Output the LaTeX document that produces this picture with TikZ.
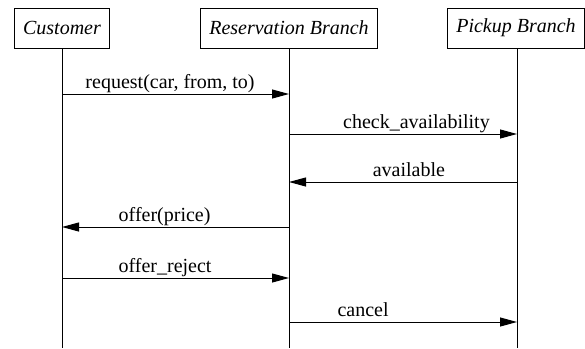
\documentclass[tikz,border=0pt]{standalone}
\usepackage{fontspec}
\setmainfont{Liberation Serif}
\usetikzlibrary{arrows.meta,calc}

\tikzset{
	party/.style={draw, line width=1pt, minimum height=40pt, inner xsep=9pt, font=\fontsize{20}{24}\selectfont\itshape},
	msg/.style={line width=1pt, -{Triangle[length=17pt,width=9pt]}},
	lbl/.style={anchor=base, yshift=6pt}
}

\begin{document}
\begin{tikzpicture}[x=1pt,y=-1pt]
	\useasboundingbox (0,0) rectangle (585,348);
	\begin{scope}[font=\fontsize{20}{24}\selectfont]
		\draw (62,28) node[party](customer) {Customer};
		\draw (289,28) node[party](resv) {Reservation Branch};
		\draw (516,28) node[party](pickup) {Pickup Branch};

		% lifelines
		\draw (62,348) coordinate (customer-end);
		\draw (289,348) coordinate (resv-end);
		\draw (517,348) coordinate (pickup-end);
		\draw [line width=1pt] (customer) -- (customer-end);
		\draw [line width=1pt] (resv) -- (resv-end);
		\draw [line width=1pt] (pickup.south -| pickup-end) -- (pickup-end);

		% messages
		\draw [msg] (customer |- 0,94) -- (resv |- 0,94) node[pos=0.476,lbl]
					{request(car, from, to)};
		\draw [msg] (resv |- 0,134) -- (pickup-end |- 0,134) node[pos=0.559,lbl]
					{check\_availability};
		\draw [msg] (pickup-end |- 0,182) -- (resv |- 0,182) node[pos=0.474,lbl]
					{available};
		\draw [msg] (resv |- 0,227) -- (customer |- 0,227) node[pos=0.548,lbl]
					{offer(price)};
		\draw [msg] (customer |- 0,278) -- (resv |- 0,278) node[pos=0.454,lbl]
					{offer\_reject};
		\draw [msg] (resv |- 0,322) -- (pickup-end |- 0,322) node[pos=0.325,lbl]
					{cancel};
	\end{scope}
\end{tikzpicture}
\end{document}
